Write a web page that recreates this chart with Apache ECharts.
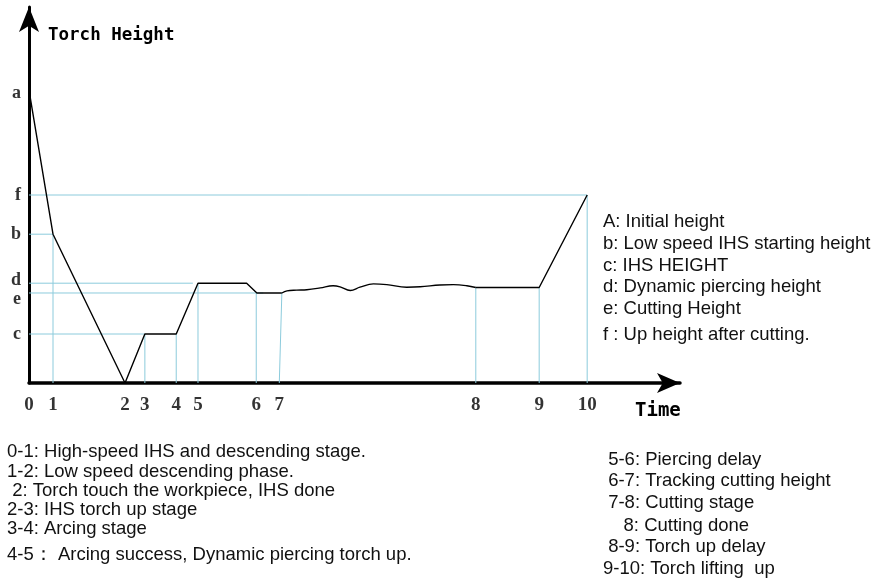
<!DOCTYPE html>
<html>
<head>
<meta charset="utf-8">
<title>Torch Height</title>
<script src="https://cdn.jsdelivr.net/npm/echarts@6/dist/echarts.min.js"></script>
<style>html,body{margin:0;padding:0;background:#fff}#main{width:876px;height:583px}</style>
</head>
<body>
<div id="main"></div>
<script>
// height levels (arbitrary units, 0 = workpiece surface)
var hNames = ['a', 'f', 'b', 'd', 'e', 'c'];
var hValues = [80.7, 51.8, 41.0, 27.5, 24.8, 13.5];

// time marks (arbitrary units)
var tNames = ['0', '1', '2', '3', '4', '5', '6', '7', '8', '9', '10'];
var tValues = [0, 3.75, 15.0, 18.1, 23.0, 26.4, 35.5, 39.1, 69.8, 79.7, 87.2];

// torch height curve: [time, height]
var torchStart = [[0, 80.7], [3.75, 41.0], [15.0, 0], [18.1, 13.5], [23.0, 13.5], [26.4, 27.5],
    [34.0, 27.5], [35.6, 24.8], [39.5, 24.8]];
var cuttingWave = [[39.5, 24.8], [40.3, 25.4], [41.8, 25.6], [43.4, 25.7], [45.5, 26.2], [47.5, 26.8],
    [48.6, 26.5], [50.2, 25.5], [51.7, 26.4], [53.8, 27.3], [55.9, 27.1], [59.0, 26.4], [61.1, 26.5],
    [64.2, 27.0], [66.3, 27.1], [68.4, 26.8], [69.8, 26.3]];
var torchEnd = [[69.8, 26.3], [79.7, 26.3], [87.2, 51.8]];

// guide lines: horizontal [xFrom, xTo, height], vertical [xBottom, xTop, heightTop]
var guideH = [[0, 87.2, 51.8], [0, 3.75, 41.0], [0, 25.6, 27.5], [0, 36.6, 24.8], [0, 18.1, 13.5]];
var guideV = [[3.75, 3.75, 41.0], [18.1, 18.1, 13.5], [23.0, 23.0, 13.5], [26.4, 26.4, 27.5],
    [35.5, 35.5, 24.8], [39.1, 39.5, 24.8], [69.8, 69.8, 26.3], [79.7, 79.7, 26.3], [87.2, 87.2, 51.8]];

var legendLines = ['A: Initial height', 'b: Low speed IHS starting height', 'c: IHS HEIGHT',
    'd: Dynamic piercing height', 'e: Cutting Height', 'f : Up height after cutting.'];
var notesLeft = ['0-1: High-speed IHS and descending stage.', '1-2: Low speed descending phase.',
    ' 2: Torch touch the workpiece, IHS done', '2-3: IHS torch up stage', '3-4: Arcing stage',
    '4-5\uFF1A Arcing success, Dynamic piercing torch up.'];
var notesRight = [' 5-6: Piercing delay', ' 6-7: Tracking cutting height', ' 7-8: Cutting stage',
    '    8: Cutting done', ' 8-9: Torch up delay', '9-10: Torch lifting  up'];

var guideColor = '#8ccbdc';
var sansFont = '"Liberation Sans", Arial, sans-serif';
var series = [];

guideH.forEach(function (g) {
    series.push({type: 'line', silent: true, symbol: 'none', z: 1,
        lineStyle: {color: guideColor, width: 1}, data: [[g[0], g[2]], [g[1], g[2]]]});
});
guideV.forEach(function (g) {
    series.push({type: 'line', silent: true, symbol: 'none', z: 1,
        lineStyle: {color: guideColor, width: 1}, data: [[g[0], 0], [g[1], g[2]]]});
});

var curveStyle = {color: '#000', width: 1.4};
series.push({type: 'line', symbol: 'none', z: 3, lineStyle: curveStyle, data: torchStart});
series.push({type: 'line', symbol: 'none', z: 3, smooth: 0.4, lineStyle: curveStyle, data: cuttingWave});
series.push({type: 'line', symbol: 'none', z: 3, lineStyle: curveStyle, data: torchEnd});

// height letters on the vertical axis
var labelNudge = {a: 3, d: -3, e: 6};
series.push({
    type: 'scatter', symbolSize: 0, silent: true,
    data: hValues.map(function (v, i) {
        return {value: [0, v], name: hNames[i],
            label: {offset: [0, labelNudge[hNames[i]] || 0]}};
    }),
    label: {show: true, position: 'left', distance: 8, formatter: '{b}', color: '#000',
        fontFamily: '"Liberation Serif", "DejaVu Serif", serif', fontWeight: 'bold', fontSize: 18}
});
// time marks under the horizontal axis
series.push({
    type: 'scatter', symbolSize: 0, silent: true,
    data: tValues.map(function (v, i) { return {value: [v, 0], name: tNames[i]}; }),
    label: {show: true, position: 'bottom', distance: 13, formatter: '{b}', color: '#000',
        fontFamily: '"Liberation Serif", "DejaVu Serif", serif', fontWeight: 'bold', fontSize: 19}
});

function textBlock(lines, x, ys) {
    return lines.map(function (t, i) {
        return {type: 'text', x: x, y: ys[i], silent: true,
            style: {text: t, fill: '#111', font: '18.5px ' + sansFont, verticalAlign: 'middle', textVerticalAlign: 'middle'}};
    });
}

var graphics = [
    {type: 'text', x: 48, y: 35, style: {text: 'Torch Height', fill: '#000',
        font: 'bold 17.5px "DejaVu Sans Mono", monospace', verticalAlign: 'middle', textVerticalAlign: 'middle'}},
    {type: 'text', x: 635, y: 411, style: {text: 'Time', fill: '#000',
        font: 'bold 19px "DejaVu Sans Mono", monospace', verticalAlign: 'middle', textVerticalAlign: 'middle'}}
].concat(
    textBlock(legendLines, 603, [222, 244, 266, 287, 309, 335]),
    textBlock(notesLeft, 7, [452, 472, 491, 510, 529, 555]),
    textBlock(notesRight, 603, [460, 481, 503, 526, 547, 569])
);

var chart = echarts.init(document.getElementById('main'));
chart.setOption({
    animation: false,
    backgroundColor: '#fff',
    grid: {left: 29, top: 7, width: 651, height: 376, containLabel: false},
    xAxis: {
        type: 'value', min: 0, max: 101.7,
        axisLine: {show: true, symbol: ['none', 'arrow'], symbolSize: [15, 23],
            lineStyle: {color: '#000', width: 3.5}},
        axisTick: {show: false}, axisLabel: {show: false}, splitLine: {show: false}
    },
    yAxis: {
        type: 'value', min: 0, max: 103.6,
        axisLine: {show: true, symbol: ['none', 'arrow'], symbolSize: [15, 25],
            lineStyle: {color: '#000', width: 3}},
        axisTick: {show: false}, axisLabel: {show: false}, splitLine: {show: false}
    },
    graphic: graphics,
    series: series
});
</script>
</body>
</html>
